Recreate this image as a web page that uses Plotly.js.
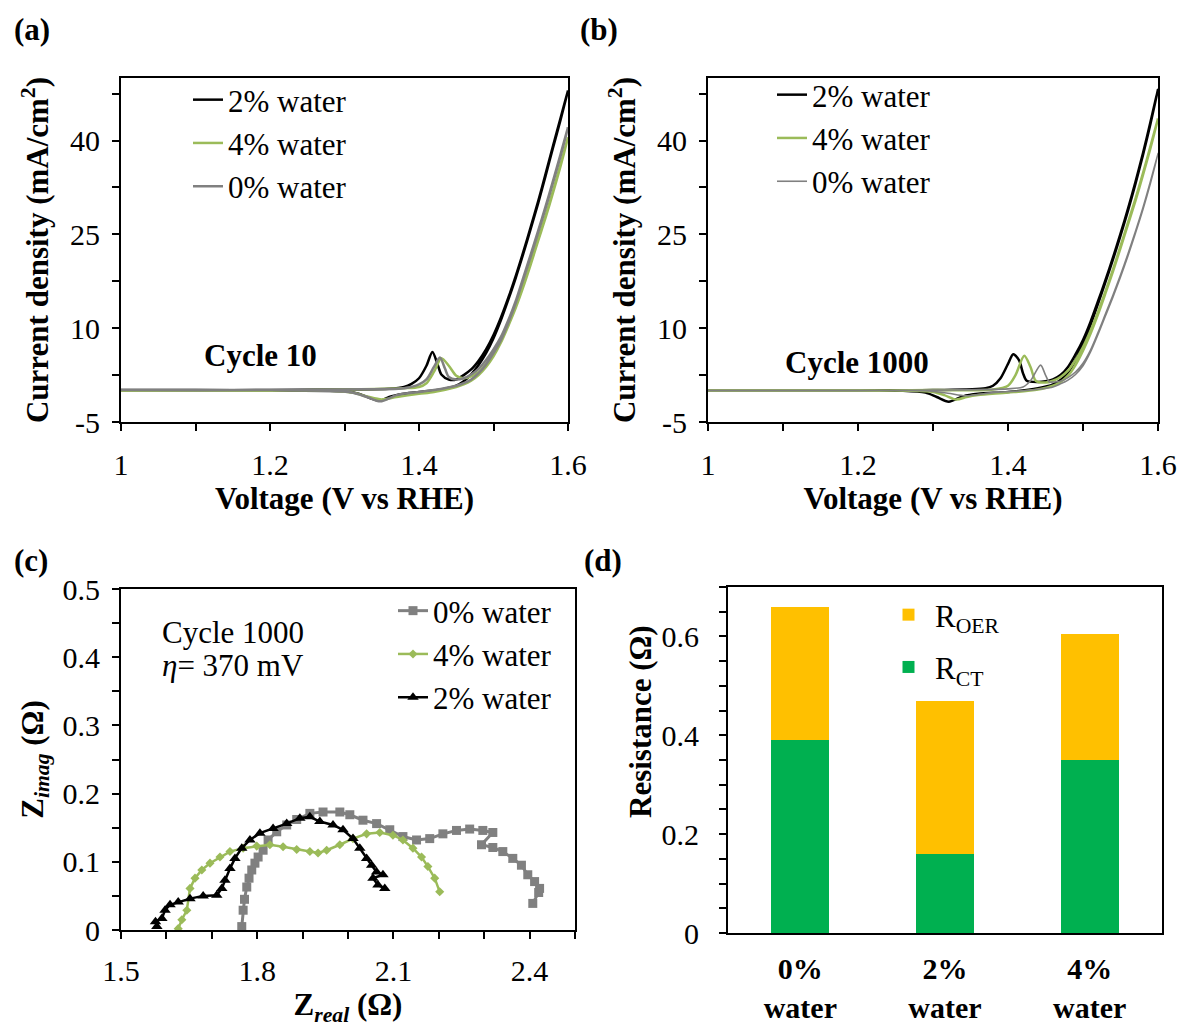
<!DOCTYPE html>
<html>
<head>
<meta charset="utf-8">
<script src="https://cdn.plot.ly/plotly-3.0.1.min.js"></script>
<style>html,body{margin:0;padding:0;background:#fff;}#chart{width:1180px;height:1027px;}</style>
</head>
<body>
<div id="chart"></div>
<script>
// ---------- Panel (a): Cycle 10 (forward sweep to 1.6 V, then return sweep) ----------
const a2_V = [1.00,1.10,1.20,1.30,1.36,1.38,1.39,1.40,1.41,1.418,1.425,1.43,1.44,1.45,1.46,1.47,1.48,1.49,1.50,1.51,1.52,1.53,1.54,1.55,1.56,1.57,1.58,1.59,1.60,
              1.59,1.58,1.57,1.56,1.55,1.54,1.53,1.52,1.51,1.50,1.49,1.48,1.47,1.46,1.45,1.43,1.40,1.38,1.36,1.348,1.335,1.32,1.30,1.20,1.00];
const a2_I = [0.1,0.1,0.1,0.2,0.3,0.6,1.1,2.0,4.0,6.2,4.2,2.6,1.8,1.8,2.5,3.4,4.8,6.6,8.9,11.7,14.9,18.4,22.2,26.2,30.3,34.7,39.2,43.6,48.0,
              43.3,38.9,34.4,30.0,25.9,21.9,18.1,14.6,11.3,8.4,6.0,4.1,2.6,1.5,0.8,0.2,-0.2,-0.5,-1.0,-1.6,-1.2,-0.5,-0.1,0.0,0.0];
const a4_V = [1.00,1.20,1.30,1.38,1.40,1.41,1.42,1.43,1.44,1.45,1.46,1.47,1.48,1.49,1.50,1.51,1.52,1.53,1.54,1.55,1.56,1.57,1.58,1.59,1.60,
              1.59,1.58,1.57,1.56,1.55,1.54,1.53,1.52,1.51,1.50,1.49,1.48,1.47,1.46,1.45,1.42,1.40,1.37,1.35,1.33,1.31,1.28,1.20,1.00];
const a4_I = [0.0,0.0,0.2,0.4,0.6,1.2,3.0,5.2,4.0,2.4,2.0,2.3,3.0,4.3,6.0,8.1,10.7,13.6,16.9,20.5,24.3,28.0,32.0,36.2,40.5,
              35.9,31.7,27.7,24.0,20.2,16.6,13.3,10.4,7.7,5.5,3.8,2.5,1.6,1.0,0.6,-0.2,-0.5,-1.0,-1.4,-0.9,-0.3,0.0,0.0,0.0];
const a0_V = [1.00,1.20,1.30,1.38,1.40,1.41,1.42,1.428,1.435,1.44,1.45,1.46,1.47,1.48,1.49,1.50,1.51,1.52,1.53,1.54,1.55,1.56,1.57,1.58,1.59,1.60,
              1.59,1.58,1.57,1.56,1.55,1.54,1.53,1.52,1.51,1.50,1.49,1.48,1.47,1.46,1.45,1.42,1.40,1.37,1.348,1.33,1.31,1.28,1.20,1.00];
const a0_I = [0.1,0.1,0.2,0.4,1.0,1.8,3.8,5.3,3.5,2.2,1.8,2.0,2.6,3.5,4.9,6.6,8.6,11.3,14.4,18.1,21.8,25.6,29.5,33.6,37.8,42.1,
              37.5,33.3,29.2,25.3,21.5,17.8,14.1,10.9,8.1,6.0,4.2,2.8,1.8,1.2,0.8,0.1,-0.2,-0.7,-1.7,-1.0,-0.3,0.0,0.1,0.1];

// ---------- Panel (b): Cycle 1000 ----------
const b2_V = [1.00,1.20,1.30,1.37,1.38,1.39,1.40,1.407,1.415,1.42,1.425,1.44,1.45,1.46,1.47,1.48,1.49,1.50,1.51,1.52,1.53,1.54,1.55,1.56,1.57,1.58,1.59,1.60,
              1.59,1.58,1.57,1.56,1.55,1.54,1.53,1.52,1.51,1.50,1.49,1.48,1.47,1.46,1.44,1.40,1.36,1.34,1.321,1.305,1.29,1.26,1.20,1.00];
const b2_I = [0.0,0.0,0.1,0.4,0.8,2.0,4.3,5.85,4.8,2.8,1.6,1.4,1.5,1.8,2.5,3.8,5.8,8.1,11.0,14.3,17.7,21.3,25.1,29.1,33.4,38.0,43.0,48.2,
              42.7,37.7,33.1,28.8,24.8,21.0,17.4,13.9,10.5,7.4,4.9,2.9,1.7,1.0,0.4,-0.2,-0.5,-0.9,-1.75,-1.0,-0.3,0.0,0.0,0.0];
const b4_V = [1.00,1.20,1.30,1.38,1.40,1.41,1.4217,1.43,1.437,1.45,1.46,1.47,1.48,1.49,1.50,1.51,1.52,1.53,1.54,1.55,1.56,1.57,1.58,1.59,1.60,
              1.59,1.58,1.57,1.56,1.55,1.54,1.53,1.52,1.51,1.50,1.49,1.48,1.47,1.46,1.44,1.40,1.36,1.345,1.331,1.315,1.30,1.27,1.20,1.00];
const b4_I = [0.0,0.0,0.1,0.2,0.8,2.5,5.6,3.8,1.6,1.3,1.6,2.2,3.2,4.9,7.0,9.6,12.6,15.9,19.4,23.1,26.9,30.7,34.8,39.1,43.5,
              38.8,34.5,30.4,26.6,22.8,19.1,15.6,12.2,9.1,6.4,4.1,2.4,1.4,0.8,0.2,-0.3,-0.7,-1.0,-1.4,-0.7,-0.2,0.0,0.0,0.0];
const b0_V = [1.00,1.20,1.30,1.40,1.42,1.43,1.4435,1.45,1.455,1.46,1.47,1.48,1.49,1.50,1.51,1.52,1.53,1.54,1.55,1.56,1.57,1.58,1.59,1.60,
              1.59,1.58,1.57,1.56,1.55,1.54,1.53,1.52,1.51,1.50,1.49,1.48,1.47,1.46,1.42,1.38,1.344,1.32,1.29,1.20,1.00];
const b0_I = [0.0,0.0,0.1,0.3,0.6,1.6,4.1,2.5,1.4,1.4,1.5,2.1,3.0,4.4,6.5,9.3,12.3,15.3,18.5,21.9,25.5,29.3,33.5,37.9,
              33.2,29.0,25.2,21.6,18.2,15.0,12.0,9.0,6.2,4.0,2.6,1.7,1.1,0.6,0.0,-0.3,-0.8,-0.4,0.0,0.0,0.0];

// ---------- Panel (c): Nyquist, cycle 1000 ----------
const c0_Zr = [1.766,1.769,1.772,1.777,1.782,1.788,1.795,1.802,1.813,1.824,1.843,1.865,1.887,1.916,1.945,1.982,2.004,2.033,2.063,2.092,2.121,2.151,2.180,2.209,2.239,2.268,2.297,2.319,2.294,2.319,2.341,2.363,2.382,2.396,2.411,2.422,2.420,2.407];
const c0_Zi = [0.005,0.029,0.045,0.063,0.076,0.088,0.098,0.107,0.117,0.132,0.144,0.154,0.162,0.171,0.173,0.173,0.169,0.161,0.156,0.147,0.137,0.132,0.134,0.141,0.146,0.148,0.146,0.143,0.125,0.121,0.115,0.105,0.095,0.081,0.071,0.061,0.055,0.039];
const c4_Zr = [1.626,1.634,1.645,1.652,1.663,1.678,1.696,1.718,1.740,1.769,1.799,1.828,1.857,1.887,1.916,1.934,1.953,1.982,2.011,2.041,2.070,2.099,2.121,2.143,2.162,2.176,2.191,2.202];
const c4_Zi = [0.002,0.015,0.029,0.061,0.076,0.088,0.098,0.107,0.115,0.120,0.123,0.125,0.122,0.118,0.115,0.113,0.117,0.125,0.134,0.141,0.143,0.139,0.132,0.120,0.107,0.093,0.076,0.056];
const c2_Zr = [1.579,1.576,1.590,1.597,1.608,1.626,1.652,1.681,1.711,1.722,1.729,1.740,1.751,1.766,1.784,1.806,1.835,1.865,1.894,1.916,1.938,1.967,1.989,2.011,2.026,2.041,2.052,2.063,2.077,2.055,2.066,2.081];
const c2_Zi = [0.005,0.012,0.017,0.029,0.037,0.041,0.046,0.050,0.051,0.061,0.073,0.090,0.105,0.120,0.132,0.142,0.149,0.156,0.164,0.166,0.159,0.154,0.147,0.134,0.120,0.105,0.095,0.085,0.081,0.076,0.066,0.061];

// ---------- Panel (d): resistances ----------
const d_categories = ['0%<br>water','2%<br>water','4%<br>water'];
const d_RCT  = [0.39, 0.16, 0.35];
const d_ROER = [0.27, 0.31, 0.255];

// ---------- Tick arrays ----------
const v_tickvals = [1,1.1,1.2,1.3,1.4,1.5,1.6];
const v_ticktext = ['1','','1.2','','1.4','','1.6'];
const j_tickvals = [-5,2.5,10,17.5,25,32.5,40,47.5];
const j_ticktext = ['-5','','10','','25','','40',''];
const zr_tickvals = [1.5,1.6,1.7,1.8,1.9,2.0,2.1,2.2,2.3,2.4,2.5];
const zr_ticktext = ['1.5','','','1.8','','','2.1','','','2.4',''];
const zi_tickvals = [0,0.05,0.1,0.15,0.2,0.25,0.3,0.35,0.4,0.45,0.5];
const zi_ticktext = ['0','','0.1','','0.2','','0.3','','0.4','','0.5'];
const r_tickvals = [0,0.05,0.1,0.15,0.2,0.25,0.3,0.35,0.4,0.45,0.5,0.55,0.6,0.65,0.7];
const r_ticktext = ['0','','','','0.2','','','','0.4','','','','0.6','',''];

const BLACK = '#000000', GREEN = '#9BBB59', GRAY = '#808080';
const GOLD = '#FFC000', DGREEN = '#00B050';
const FONT = '"Liberation Serif", "Times New Roman", Times, serif';
const W = 1180, H = 1027;
const px = x => x / W, py = y => 1 - y / H;
const SPL = {shape:'spline', smoothing:0.8};

const traces = [
  {x:a2_V, y:a2_I, name:'2% water', mode:'lines', line:Object.assign({color:BLACK,width:2.5},SPL), xaxis:'x', yaxis:'y', legend:'legend'},
  {x:a4_V, y:a4_I, name:'4% water', mode:'lines', line:Object.assign({color:GREEN,width:2.5},SPL), xaxis:'x', yaxis:'y', legend:'legend'},
  {x:a0_V, y:a0_I, name:'0% water', mode:'lines', line:Object.assign({color:GRAY,width:2.5},SPL), xaxis:'x', yaxis:'y', legend:'legend'},

  {x:b2_V, y:b2_I, name:'2% water', mode:'lines', line:Object.assign({color:BLACK,width:2.5},SPL), xaxis:'x2', yaxis:'y2', legend:'legend2'},
  {x:b4_V, y:b4_I, name:'4% water', mode:'lines', line:Object.assign({color:GREEN,width:2.5},SPL), xaxis:'x2', yaxis:'y2', legend:'legend2'},
  {x:b0_V, y:b0_I, name:'0% water', mode:'lines', line:Object.assign({color:GRAY,width:1.6},SPL), xaxis:'x2', yaxis:'y2', legend:'legend2'},

  {x:c0_Zr, y:c0_Zi, name:'0% water', mode:'lines+markers', line:{color:GRAY,width:3}, marker:{symbol:'square',size:9,color:GRAY}, xaxis:'x3', yaxis:'y3', legend:'legend3'},
  {x:c4_Zr, y:c4_Zi, name:'4% water', mode:'lines+markers', line:{color:GREEN,width:2.5}, marker:{symbol:'diamond',size:7,color:GREEN}, xaxis:'x3', yaxis:'y3', legend:'legend3'},
  {x:c2_Zr, y:c2_Zi, name:'2% water', mode:'lines+markers', line:{color:BLACK,width:2.5}, marker:{symbol:'triangle-up',size:10,color:BLACK}, xaxis:'x3', yaxis:'y3', legend:'legend3'},

  {x:d_categories, y:d_RCT, name:'R<sub>CT</sub>', type:'bar', marker:{color:DGREEN}, xaxis:'x4', yaxis:'y4', legend:'legend4', legendgroup:'rct', legendrank:2},
  {x:d_categories, y:d_ROER, name:'R<sub>OER</sub>', type:'bar', marker:{color:GOLD}, xaxis:'x4', yaxis:'y4', legend:'legend4', legendgroup:'roer', legendrank:1}
];

const axisBase = {
  showline:true, linecolor:'#000', linewidth:2, mirror:true,
  ticks:'outside', ticklen:7, tickwidth:2, tickcolor:'#000',
  showgrid:false, zeroline:false, automargin:false,
  tickfont:{family:FONT,size:30,color:'#000'}
};
const titleFont = {family:FONT,size:31,color:'#000'};
const legFont = {family:FONT,size:31,color:'#000'};

const layout = {
  width:W, height:H,
  margin:{l:0,r:0,t:0,b:0},
  paper_bgcolor:'#fff', plot_bgcolor:'#fff',
  font:{family:FONT,color:'#000'},
  barmode:'stack', bargap:0.6,
  showlegend:true,
  xaxis: Object.assign({}, axisBase, {domain:[px(121),px(568)], range:[1,1.6], tickvals:v_tickvals, ticktext:v_ticktext, anchor:'y', ticklabelstandoff:8,
    title:{text:'<b>Voltage (V vs RHE)</b>', font:titleFont, standoff:2}}),
  yaxis: Object.assign({}, axisBase, {domain:[py(422),py(78)], range:[-5,50], tickvals:j_tickvals, ticktext:j_ticktext, anchor:'x', ticklabelstandoff:6,
    title:{text:'<b>Current density (mA/cm<sup>2</sup>)</b>', font:titleFont, standoff:12}}),
  xaxis2: Object.assign({}, axisBase, {domain:[px(708),px(1158)], range:[1,1.6], tickvals:v_tickvals, ticktext:v_ticktext, anchor:'y2', ticklabelstandoff:8,
    title:{text:'<b>Voltage (V vs RHE)</b>', font:titleFont, standoff:2}}),
  yaxis2: Object.assign({}, axisBase, {domain:[py(422),py(78)], range:[-5,50], tickvals:j_tickvals, ticktext:j_ticktext, anchor:'x2', ticklabelstandoff:6,
    title:{text:'<b>Current density (mA/cm<sup>2</sup>)</b>', font:titleFont, standoff:12}}),
  xaxis3: Object.assign({}, axisBase, {domain:[px(121),px(575)], range:[1.5,2.5], tickvals:zr_tickvals, ticktext:zr_ticktext, anchor:'y3', ticklabelstandoff:6,
    title:{text:'<b>Z<sub><i>real</i></sub> (Ω)</b>', font:titleFont, standoff:8}}),
  yaxis3: Object.assign({}, axisBase, {domain:[py(930),py(589)], range:[0,0.5], tickvals:zi_tickvals, ticktext:zi_ticktext, anchor:'x3', ticklabelstandoff:6,
    title:{text:'<b>Z<sub><i>imag</i></sub> (Ω)</b>', font:titleFont, standoff:10}}),
  xaxis4: Object.assign({}, axisBase, {domain:[px(728),px(1162)], type:'category', ticks:'', anchor:'y4', ticklabelstandoff:8,
    tickfont:{family:FONT,size:30,color:'#000',weight:'bold'}}),
  yaxis4: Object.assign({}, axisBase, {domain:[py(933),py(587)], range:[0,0.7], tickvals:r_tickvals, ticktext:r_ticktext, anchor:'x4', ticklabelstandoff:14}),
  legend: {x:px(188), y:py(73), xanchor:'left', yanchor:'top', bgcolor:'rgba(0,0,0,0)', font:legFont, traceorder:'normal'},
  legend2:{x:px(772), y:py(68), xanchor:'left', yanchor:'top', bgcolor:'rgba(0,0,0,0)', font:legFont, traceorder:'normal'},
  legend3:{x:px(393), y:py(584), xanchor:'left', yanchor:'top', bgcolor:'rgba(0,0,0,0)', font:legFont, traceorder:'normal'},
  legend4:{x:px(882), y:py(588), xanchor:'left', yanchor:'top', bgcolor:'rgba(0,0,0,0)', font:legFont, traceorder:'grouped', tracegroupgap:9, itemwidth:43},
  annotations:[
    {text:'<b>(a)</b>', x:px(12), y:py(30), xref:'paper', yref:'paper', xanchor:'left', yanchor:'middle', showarrow:false, font:{family:FONT,size:31}},
    {text:'<b>(b)</b>', x:px(578), y:py(30), xref:'paper', yref:'paper', xanchor:'left', yanchor:'middle', showarrow:false, font:{family:FONT,size:31}},
    {text:'<b>(c)</b>', x:px(12), y:py(560), xref:'paper', yref:'paper', xanchor:'left', yanchor:'middle', showarrow:false, font:{family:FONT,size:31}},
    {text:'<b>(d)</b>', x:px(582), y:py(560), xref:'paper', yref:'paper', xanchor:'left', yanchor:'middle', showarrow:false, font:{family:FONT,size:31}},
    {text:'<b>Cycle 10</b>', x:px(260), y:py(355), xref:'paper', yref:'paper', xanchor:'center', yanchor:'middle', showarrow:false, font:{family:FONT,size:31}},
    {text:'<b>Cycle 1000</b>', x:px(857), y:py(362), xref:'paper', yref:'paper', xanchor:'center', yanchor:'middle', showarrow:false, font:{family:FONT,size:31}},
    {text:'Cycle 1000', x:px(160), y:py(632), xref:'paper', yref:'paper', xanchor:'left', yanchor:'middle', showarrow:false, font:{family:FONT,size:31}},
    {text:'<i>η</i>= 370 mV', x:px(160), y:py(665), xref:'paper', yref:'paper', xanchor:'left', yanchor:'middle', showarrow:false, font:{family:FONT,size:31}},
    {text:'<b>Resistance (Ω)</b>', x:px(640), y:py(722), xref:'paper', yref:'paper', xanchor:'center', yanchor:'middle', textangle:-90, showarrow:false, font:{family:FONT,size:31}}
  ]
};

Plotly.newPlot('chart', traces, layout, {displayModeBar:false, staticPlot:true});
</script>
</body>
</html>
